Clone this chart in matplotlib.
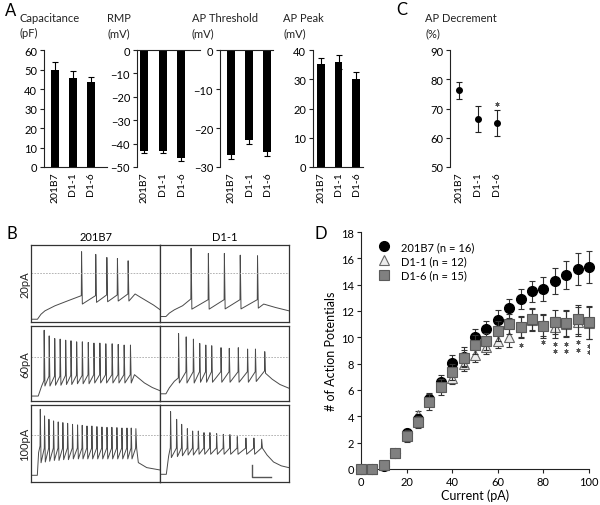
import numpy as np
import matplotlib.pyplot as plt
from matplotlib.lines import Line2D

plt.rcParams['font.family'] = ['Lato', 'DejaVu Sans']

# ---------------- data ----------------
groups = ['201B7', 'D1-1', 'D1-6']

cap_mean = [50.0, 45.8, 43.6]
cap_err = [4.0, 3.6, 2.7]
rmp_mean = [-43.2, -43.2, -46.3]
rmp_err = [1.0, 1.0, 1.0]
thr_mean = [-27.0, -23.0, -26.2]
thr_err = [1.0, 1.0, 1.0]
peak_mean = [35.2, 35.9, 30.1]
peak_err = [2.1, 2.3, 2.5]
dec_mean = [76.2, 66.4, 65.1]
dec_err = [3.0, 4.5, 4.4]
dec_star = 71.6

current = [0, 5, 10, 15, 20, 25, 30, 35, 40, 45, 50,
           55, 60, 65, 70, 75, 80, 85, 90, 95, 100]
ap_201b7 = [0, 0, 0.2, 1.2, 2.7, 3.8, 5.3, 6.6, 8.05, 8.5, 10.0,
            10.63, 11.31, 12.2, 12.9, 13.49, 13.69, 14.3, 14.73, 15.19, 15.36]
err_201b7 = [0, 0, 0.1, 0.2, 0.35, 0.4, 0.5, 0.55, 0.6, 0.75, 0.6,
             0.63, 0.76, 0.7, 0.77, 0.8, 0.9, 1.0, 1.06, 1.2, 1.2]
ap_d11 = [0, 0, 0.3, 1.2, 2.6, 4.1, 5.2, 6.3, 6.9, 7.97, 8.68,
          9.24, 9.74, 10.05, 10.8, 11.3, 10.9, 10.76, 11.0, 11.2, 11.1]
err_d11 = [0, 0, 0.1, 0.2, 0.3, 0.3, 0.4, 0.45, 0.45, 0.5, 0.55,
           0.5, 0.55, 0.8, 0.8, 0.85, 0.8, 0.8, 1.0, 1.1, 1.2]
ap_d16 = [0, 0, 0.33, 1.24, 2.53, 3.6, 5.06, 6.2, 7.37, 8.43, 9.44,
          9.7, 10.46, 10.99, 10.76, 11.39, 10.88, 11.14, 11.09, 11.39, 11.14]
err_d16 = [0, 0, 0.1, 0.2, 0.45, 0.45, 0.6, 0.6, 0.6, 0.6, 0.7,
           0.65, 0.75, 0.75, 0.8, 0.8, 0.9, 0.9, 1.0, 1.1, 1.25]
star_x = [70, 80, 85, 85, 90, 90, 95, 95, 100, 100]
star_y = [9.44, 9.62, 9.47, 8.96, 9.47, 8.96, 9.67, 9.06, 9.36, 8.86]

# traces (box-normalised time, box-normalised voltage)
t20a_onset = [(0, 0.036), (0.05, 0.036), (0.077, 0.10), (0.108, 0.145),
              (0.185, 0.21), (0.288, 0.277)]
t20a_spk = [0.39, 0.50, 0.586, 0.668, 0.751]
t20a_peak = [0.913, 0.878, 0.838, 0.825, 0.795]
t20a_ahp = [0.233, 0.255, 0.263, 0.272, 0.272]
t20a_thr = [0.342, 0.342, 0.351, 0.351, 0.364]
t20a_tail = [(0.807, 0.364), (0.85, 0.32), (0.90, 0.27), (0.95, 0.22), (1.0, 0.16)]

t20b_onset = [(0, 0.071), (0.046, 0.071), (0.072, 0.115), (0.111, 0.158),
              (0.175, 0.211)]
t20b_spk = [0.239, 0.373, 0.497, 0.62, 0.754]
t20b_peak = [0.957, 0.891, 0.891, 0.868, 0.860]
t20b_ahp = [0.167, 0.167, 0.17, 0.17, 0.18]
t20b_thr = [0.299, 0.29, 0.29, 0.29, 0.29]
t20b_tail = [(0.804, 0.233), (0.894, 0.189), (1.0, 0.145)]

t60a_onset = [(0, 0.066), (0.056, 0.066), (0.082, 0.197)]
t60a_spk = [0.100, 0.139, 0.182, 0.224, 0.267, 0.308, 0.352, 0.396,
            0.442, 0.486, 0.532, 0.578, 0.627, 0.674, 0.720, 0.769]
t60a_peak = [0.943, 0.868, 0.833, 0.825, 0.811, 0.803, 0.789, 0.789,
             0.781, 0.772, 0.772, 0.763, 0.763, 0.754, 0.746, 0.746]
t60a_ahp = [0.20, 0.20, 0.21, 0.21, 0.22, 0.22, 0.23, 0.23,
            0.23, 0.24, 0.24, 0.24, 0.24, 0.24, 0.24, 0.24]
t60a_thr = [0.272, 0.33, 0.33, 0.33, 0.34, 0.34, 0.34, 0.34,
            0.35, 0.35, 0.35, 0.35, 0.35, 0.35, 0.35, 0.35]
t60a_tail = [(0.802, 0.351), (0.879, 0.241), (0.94, 0.18), (1.0, 0.137)]

t60b_onset = [(0, 0.096), (0.046, 0.096), (0.072, 0.175), (0.111, 0.263)]
t60b_spk = [0.142, 0.201, 0.257, 0.306, 0.353, 0.399, 0.471, 0.535,
            0.605, 0.677, 0.738, 0.810]
t60b_peak = [0.899, 0.855, 0.825, 0.768, 0.746, 0.737, 0.711, 0.702,
             0.711, 0.693, 0.693, 0.658]
t60b_ahp = [0.24, 0.24, 0.24, 0.25, 0.25, 0.25, 0.25, 0.25,
            0.25, 0.25, 0.26, 0.37]
t60b_thr = [0.307, 0.39, 0.39, 0.39, 0.39, 0.39, 0.39, 0.39,
            0.39, 0.39, 0.39, 0.40]
t60b_tail = [(0.87, 0.29), (0.93, 0.22), (1.0, 0.17)]

t100a_onset = [(0, 0.087), (0.049, 0.087), (0.059, 0.382)]
t100a_spk = [0.070, 0.103, 0.137, 0.173, 0.209, 0.245, 0.282, 0.320,
             0.359, 0.395, 0.432, 0.470, 0.509, 0.548, 0.587, 0.625,
             0.664, 0.703, 0.742, 0.775, 0.811]
t100a_peak = [0.944, 0.858, 0.814, 0.793, 0.780, 0.771, 0.762, 0.749,
              0.741, 0.736, 0.727, 0.727, 0.719, 0.714, 0.710, 0.710,
              0.706, 0.701, 0.701, 0.701, 0.693]
t100a_ahp = [0.25, 0.26, 0.27, 0.28, 0.28, 0.29, 0.29, 0.30,
             0.30, 0.30, 0.30, 0.30, 0.30, 0.30, 0.30, 0.30,
             0.30, 0.30, 0.30, 0.30, 0.44]
t100a_thr = [0.468, 0.44, 0.44, 0.44, 0.44, 0.44, 0.44, 0.44,
             0.44, 0.44, 0.44, 0.44, 0.44, 0.44, 0.44, 0.44,
             0.44, 0.44, 0.44, 0.44, 0.44]
t100a_tail = [(0.832, 0.252), (0.897, 0.187), (1.0, 0.156)]

t100b_onset = [(0, 0.10), (0.049, 0.10), (0.067, 0.338)]
t100b_spk = [0.080, 0.127, 0.166, 0.210, 0.251, 0.295, 0.339, 0.385,
             0.437, 0.489, 0.540, 0.597, 0.664, 0.726, 0.786]
t100b_peak = [0.914, 0.814, 0.749, 0.693, 0.662, 0.662, 0.641, 0.641,
              0.628, 0.619, 0.615, 0.589, 0.571, 0.571, 0.554]
t100b_ahp = [0.317, 0.33, 0.34, 0.35, 0.35, 0.36, 0.36, 0.36,
             0.36, 0.36, 0.36, 0.36, 0.36, 0.36, 0.44]
t100b_thr = [0.446, 0.44, 0.44, 0.44, 0.44, 0.44, 0.44, 0.44,
             0.44, 0.44, 0.44, 0.44, 0.44, 0.44, 0.44]
t100b_tail = [(0.83, 0.35), (0.88, 0.26), (0.94, 0.21), (1.0, 0.186)]

row_labels = ['20pA', '60pA', '100pA']
zero_level = [0.637, 0.583, 0.61]

# ---------------- layout helpers ----------------
W, H = 600, 506


def rect(x0, y0, x1, y1):
    return [x0 / W, 1 - y1 / H, (x1 - x0) / W, (y1 - y0) / H]


fig = plt.figure(figsize=(6, 5.06), dpi=100)
INK = '#222222'
FS = 8
pos = [0.5, 1.5, 2.5]
STAR = (6, 2, 0)


def style_ax(ax):
    for s in ax.spines.values():
        s.set_color(INK)
        s.set_linewidth(0.8)
    ax.tick_params(axis='y', direction='out', length=3, width=0.8,
                   labelsize=FS, color=INK, pad=2)
    ax.tick_params(axis='x', length=0, labelsize=7.5, pad=3)


def bar_panel(box, xlim, vals, errs, ylim, yticks, negative=False):
    ax = fig.add_axes(rect(*box))
    ax.bar(pos, vals, width=0.42, color='black', yerr=errs, capsize=2.2,
           error_kw=dict(elinewidth=0.8, capthick=0.8, ecolor='black'))
    ax.set_xlim(*xlim)
    ax.set_ylim(*ylim)
    ax.set_yticks(yticks)
    ax.set_xticks(pos, groups, rotation=90)
    ax.spines['right'].set_visible(False)
    if negative:
        ax.spines['bottom'].set_visible(False)
    else:
        ax.spines['top'].set_visible(False)
    style_ax(ax)
    return ax


bar_panel((44, 51, 107, 168), (-0.1, 3.4), cap_mean, cap_err, (0, 60),
          range(0, 61, 10))
bar_panel((137, 51, 200, 168), (0.12, 3.5), rmp_mean, rmp_err, (-50, 0),
          range(-50, 1, 10), negative=True)
bar_panel((220, 51, 273, 168), (-0.11, 2.83), thr_mean, thr_err, (-30, 0),
          range(-30, 1, 10), negative=True)
bar_panel((313, 51, 363, 168), (0.04, 2.9), peak_mean, peak_err, (0, 40),
          range(0, 41, 10))

# panel C
axc = fig.add_axes(rect(450, 51, 510, 168))
axc.errorbar(pos, dec_mean, yerr=dec_err, fmt='o', ms=4, color='black',
             ecolor=INK, elinewidth=0.8, capsize=2.5, capthick=0.8)
axc.plot([pos[2]], [dec_star], marker=STAR, ms=3, mew=0.6, color='#555555',
         ls='none')
axc.set_xlim(0.03, 3.19)
axc.set_ylim(50, 90)
axc.set_yticks(range(50, 91, 10))
axc.set_xticks(pos, groups, rotation=90)
for s in ['top', 'right', 'bottom']:
    axc.spines[s].set_visible(False)
style_ax(axc)

titles = [(19, 'Capacitance\n(pF)'), (107, 'RMP\n(mV)'),
          (192, 'AP Threshold\n(mV)'), (283, 'AP Peak\n(mV)'),
          (425, 'AP Decrement\n(%)')]
for x, t in titles:
    fig.text(x / W, 1 - 13 / H, t, ha='left', va='top', fontsize=FS,
             linespacing=1.45, color=INK)

for x, y, lab in [(5, 16, 'A'), (396, 15, 'C'), (6, 239, 'B'), (315, 239, 'D')]:
    fig.text(x / W, 1 - y / H, lab, fontsize=12, ha='left', va='baseline')

# panel B traces
traces = [
    [(t20a_onset, t20a_spk, t20a_peak, t20a_ahp, t20a_thr, t20a_tail),
     (t20b_onset, t20b_spk, t20b_peak, t20b_ahp, t20b_thr, t20b_tail)],
    [(t60a_onset, t60a_spk, t60a_peak, t60a_ahp, t60a_thr, t60a_tail),
     (t60b_onset, t60b_spk, t60b_peak, t60b_ahp, t60b_thr, t60b_tail)],
    [(t100a_onset, t100a_spk, t100a_peak, t100a_ahp, t100a_thr, t100a_tail),
     (t100b_onset, t100b_spk, t100b_peak, t100b_ahp, t100b_thr, t100b_tail)],
]


def trace_xy(onset, spk, peak, ahp, thr, tail):
    pts = list(onset)
    for s, p, a, th in zip(spk, peak, ahp, thr):
        pts += [(s, th), (s + 0.002, p), (s + 0.008, a)]
    pts += list(tail)
    arr = np.array(pts)
    return arr[:, 0], arr[:, 1]


rows_y = [(246, 323), (327, 402), (406, 483)]
cols_x = [(31, 160), (160, 289)]
for r, (y0, y1) in enumerate(rows_y):
    for c, (x0, x1) in enumerate(cols_x):
        ax = fig.add_axes(rect(x0, y0, x1, y1))
        tx, ty = trace_xy(*traces[r][c])
        ax.plot(tx, ty, color='#4a4a4a', lw=0.7)
        ax.axhline(zero_level[r], color='#a8a8a8', lw=0.6, ls=(0, (2, 1.5)))
        ax.set_xlim(0, 1)
        ax.set_ylim(0, 1)
        ax.set_xticks([])
        ax.set_yticks([])
        for s in ax.spines.values():
            s.set_color('#333333')
            s.set_linewidth(0.9)
        if r == 2 and c == 1:
            ax.plot([0.71, 0.71, 0.86], [0.22, 0.065, 0.065], color='#555555',
                    lw=1.0)
    fig.text(25 / W, 1 - ((y0 + y1) / 2) / H, row_labels[r], rotation=90,
             ha='center', va='center', fontsize=FS, color=INK)
fig.text(96 / W, 1 - 238 / H, groups[0], ha='center', va='center', fontsize=FS)
fig.text(225 / W, 1 - 238 / H, groups[1], ha='center', va='center', fontsize=FS)

# panel D
axd = fig.add_axes(rect(361, 233, 589, 470))
ekw = dict(fmt='none', elinewidth=0.8, capsize=2.5, capthick=0.8, ecolor='#333333')


def err_noclip(cont):
    for art in cont.get_children():
        art.set_clip_on(False)


err_noclip(axd.errorbar(current, ap_d11, yerr=err_d11, zorder=2, **ekw))
axd.plot(current, ap_d11, '^', ms=6.5, mfc='#ececec', mec='#666666', mew=0.8,
         ls='none', zorder=3, clip_on=False)
err_noclip(axd.errorbar(current, ap_201b7, yerr=err_201b7, zorder=4, **ekw))
axd.plot(current, ap_201b7, 'o', ms=7, color='black', ls='none', zorder=5,
         clip_on=False)
err_noclip(axd.errorbar(current, ap_d16, yerr=err_d16, zorder=6, **ekw))
axd.plot(current, ap_d16, 's', ms=6.8, mfc='#808080', mec='#5a5a5a', mew=0.8,
         ls='none', zorder=7, clip_on=False)
axd.plot(star_x, star_y, marker=STAR, ms=3, mew=0.6, color='#555555',
         ls='none', zorder=8)
axd.set_xlim(0, 100)
axd.set_ylim(0, 18)
axd.set_xticks(range(0, 101, 20))
axd.set_yticks(range(0, 19, 2))
for s in ['top', 'right']:
    axd.spines[s].set_visible(False)
for s in ['left', 'bottom']:
    axd.spines[s].set_color(INK)
    axd.spines[s].set_linewidth(0.8)
axd.tick_params(direction='out', length=3, width=0.8, labelsize=FS, color=INK, pad=2)
axd.set_xlabel('Current (pA)', fontsize=9, labelpad=1)
axd.set_ylabel('# of Action Potentials', fontsize=9, labelpad=3)

handles = [
    Line2D([], [], marker='o', ls='none', ms=7, color='black'),
    Line2D([], [], marker='^', ls='none', ms=6.5, mfc='#ececec', mec='#666666', mew=0.8),
    Line2D([], [], marker='s', ls='none', ms=6.8, mfc='#808080', mec='#5a5a5a', mew=0.8),
]
labels = ['201B7 (n = 16)', 'D1-1 (n = 12)', 'D1-6 (n = 15)']
fig.legend(handles, labels, loc='upper left', bbox_to_anchor=(378 / W, 1 - 242 / H),
           frameon=False, fontsize=FS, handlelength=1.0, handletextpad=1.1,
           labelspacing=0.3, borderpad=0, borderaxespad=0)

fig.savefig('out.png', dpi=100)
